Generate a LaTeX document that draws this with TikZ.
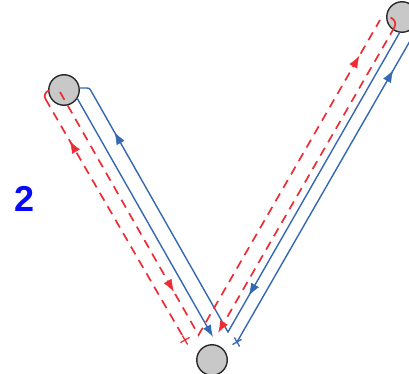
\documentclass[tikz,border=0pt]{standalone}
\usepackage{fontspec}
\setmainfont{Liberation Sans}
\usetikzlibrary{arrows.meta,decorations.markings,shapes.misc}
\definecolor{bl}{RGB}{52,104,178}
\definecolor{rd}{RGB}{238,44,52}
\definecolor{cf}{RGB}{200,200,200}
\definecolor{ce}{RGB}{40,40,40}
\definecolor{num}{RGB}{10,10,250}
\begin{document}
\begin{tikzpicture}[x=1pt,y=-1pt,
  ball/.style={circle, draw=ce, fill=cf, line width=1.4pt, minimum size=30.5pt, inner sep=0pt},
  bray/.style={draw=bl, line width=1.4pt},
  rray/.style={draw=rd, line width=1.7pt, dash pattern=on 9pt off 6.5pt},
  rhook/.style={draw=rd, line width=1.7pt},
  tipb/.style={-{Latex[length=12pt,width=9pt]}},
  mk/.style 2 args={decorate, decoration={markings, mark=at position #1 with {\arrow{Latex[length=12pt,width=9pt,color=#2]}}}},
  xmark/.style={cross out, draw=#1, line width=1.3pt, minimum size=6pt, inner sep=0pt}]
\useasboundingbox (0,0) rectangle (409,374);
\clip (0,0) rectangle (409,374);
% balls
\node[ball] (L) at (64,90) {};
\node[ball] (B) at (212,360) {};
\node[ball] (T) at (402,17) {};
% label
\node[text=num, font=\bfseries\fontsize{36}{36}\selectfont] (lab) at (24.5,199) {2};
% blue coordinates
\coordinate (bc0) at (78.5,88);
\coordinate (bc1a) at (84.9,88);
\coordinate (bc1) at (89.4,88);
\coordinate (bc1b) at (91.6,91.9);
\coordinate (bv) at (228,332);
\coordinate (bt) at (400,32);
\coordinate (bis) at (77,98);
\coordinate (bie) at (213,337);
\coordinate (be) at (414,34);
\node[xmark=bl, rotate=-15] (bxm) at (237,342) {};
% red coordinates
\coordinate (rh1a) at (45.5,99);
\coordinate (rh1b) at (49,90.5);
\node[xmark=rd, rotate=-15] (rxm) at (185,340) {};
\coordinate (r2s) at (60,92);
\coordinate (rv) at (198.5,335);
\coordinate (r3e) at (380,20);
\coordinate (rh2a) at (394.6,27);
\coordinate (rh2b) at (390.5,17.5);
\coordinate (rie) at (218,333);
% blue rays
\draw[bray] (bc0) -- (bc1a) .. controls (bc1) .. (bc1b) -- (bv) -- (bt);
\draw[bray, tipb] (bis) -- (bie);
\draw[bray] (bxm.center) -- (be);
\path[mk={0.818}{bl}] (bv) -- (bc1);
\path[mk={0.878}{bl}] (bt) -- (bv);
\path[mk={0.882}{bl}] (bxm.center) -- (be);
% red rays
\draw[rhook] (rh1a) .. controls (43.5,95.5) and (45.5,91.5) .. (rh1b);
\draw[rray] (rh1a) -- (rxm.center);
\draw[rray] (r2s) -- (rv) -- (r3e);
\draw[rhook] (rh2a) .. controls (396.5,23.5) and (394.5,19) .. (rh2b);
\draw[rray, tipb] (rh2a) -- (rie);
\path[mk={0.825}{rd}] (rxm.center) -- (rh1a);
\path[mk={0.821}{rd}] (r2s) -- (rv);
\path[mk={0.886}{rd}] (rv) -- (r3e);
\end{tikzpicture}
\end{document}
